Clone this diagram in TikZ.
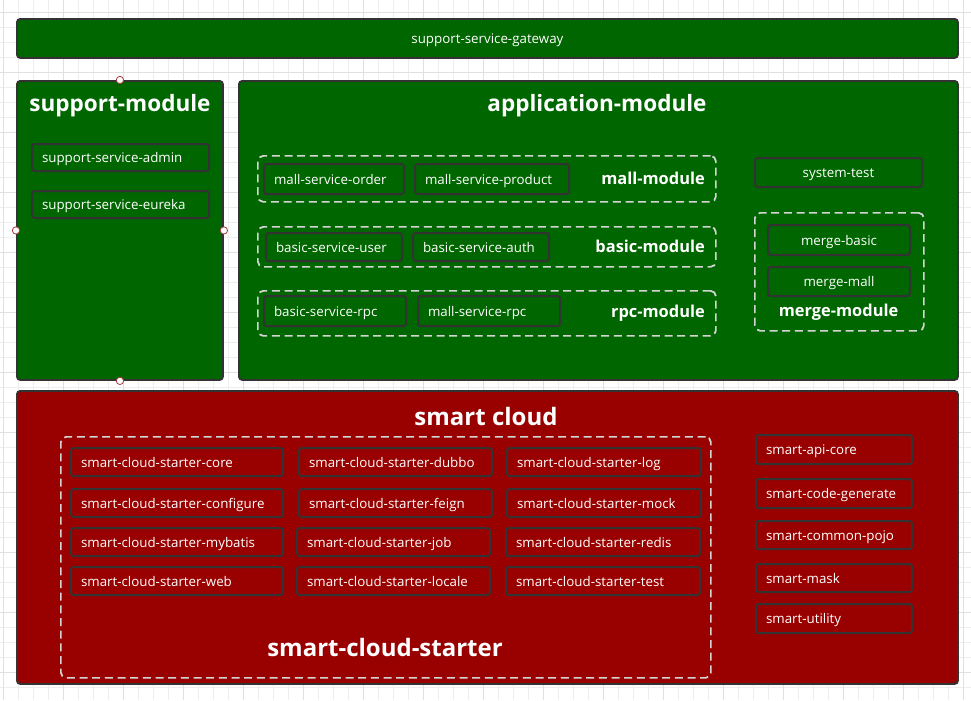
\documentclass[tikz,border=0pt]{standalone}
\usepackage{fontspec}
\setmainfont{Open Sans}
\usepackage{tikz}
\usetikzlibrary{positioning}

\definecolor{appgreen}{HTML}{006600}
\definecolor{cloudred}{HTML}{990000}
\definecolor{edge}{HTML}{333333}
\definecolor{dashgray}{HTML}{D4D4D4}
\definecolor{gridminor}{HTML}{EEEEEE}
\definecolor{gridmajor}{HTML}{E0E0E0}
\definecolor{handlered}{HTML}{A83A3A}

\tikzset{
  module/.style 2 args={
    rectangle,
    draw=edge,
    line width=1.4pt,
    rounded corners=2.5pt,
    anchor=north west,
    inner sep=0pt,
    minimum width=#1*0.75pt,
    minimum height=#2*0.75pt,
    text=white,
    font=\fontsize{10}{12}\selectfont,
    text height=7.5pt,
    text depth=0pt
  },
  group/.style 2 args={
    rectangle,
    draw=dashgray,
    line width=1.3pt,
    dash pattern=on 6pt off 3.5pt,
    rounded corners=4pt,
    anchor=north west,
    inner sep=0pt,
    minimum width=#1*0.75pt,
    minimum height=#2*0.75pt
  },
  item/.style 2 args={
    rectangle,
    draw=edge,
    line width=1.5pt,
    rounded corners=2pt,
    anchor=north west,
    inner xsep=7.5pt,
    inner ysep=0pt,
    text width=#1*0.75pt-15pt,
    minimum height=#2*0.75pt,
    align=left,
    text=white,
    font=\fontsize{10}{12}\selectfont,
    text height=7.5pt,
    text depth=0pt
  },
  centreitem/.style 2 args={item={#1}{#2}, align=center},
  title/.style={text=white, font=\bfseries\fontsize{16.9}{20}\selectfont, inner sep=0pt, anchor=base},
  bigtitle/.style={title, font=\bfseries\fontsize{18}{22}\selectfont},
  grouptitle/.style={text=white, font=\bfseries\fontsize{12.3}{15}\selectfont, inner sep=0pt, anchor=base east},
  handle/.style={circle, draw=handlered, fill=white, line width=0.6pt, inner sep=0pt, minimum size=5.5pt},
}

\begin{document}
\begin{tikzpicture}[x=0.75pt, y=-0.75pt]
        \useasboundingbox (0,0) rectangle (971,700);
        % grid
        \fill[white] (0,0) rectangle (971,700);
        \foreach \gx in {3.3,18.3,...,971} \draw[gridminor, line width=0.6pt] (\gx,0) -- (\gx,700);
        \foreach \gy in {12.7,27.7,...,700} \draw[gridminor, line width=0.6pt] (0,\gy) -- (971,\gy);
        \foreach \gx in {3.3,63.3,...,971} \draw[gridmajor, line width=0.6pt] (\gx,0) -- (\gx,700);
        \foreach \gy in {12.7,72.7,...,700} \draw[gridmajor, line width=0.6pt] (0,\gy) -- (971,\gy);

        % modules
        \node [module={941}{39}, fill=appgreen] (gateway) at (16,18) {support-service-gateway};
        \node [module={206}{299}, fill=appgreen] (support) at (16,80) {};
        \node [module={719}{299}, fill=appgreen] (application) at (238,80) {};
        \node [module={941}{293}, fill=cloudred] (cloud) at (16,390) {};

        % titles
        \node [title] (supporttitle) at (120,111.7) {support-module};
        \node [title] (apptitle) at (597,111.7) {application-module};
        \node [bigtitle] (cloudtitle) at (486,425) {smart cloud};

        % support-module
        \node [item={177}{27}] (admin) at (31,143) {support-service-admin};
        \node [item={177}{27}] (eureka) at (31,190) {support-service-eureka};

        % application-module
        \node [group={458}{46}] (mallgroup) at (257,155) {};
        \node [item={140}{30}] (order) at (263,163) {mall-service-order};
        \node [item={154}{30}] (product) at (414,163) {mall-service-product};
        \node [grouptitle] (malltitle) at (705,184) {mall-module};

        \node [group={458}{40}] (basicgroup) at (257,226) {};
        \node [item={136}{28}] (user) at (265,232) {basic-service-user};
        \node [item={136}{28}] (auth) at (412,232) {basic-service-auth};
        \node [grouptitle] (basictitle) at (705,252.7) {basic-module};

        \node [group={458}{45}] (rpcgroup) at (257,290) {};
        \node [item={142}{30}] (basicrpc) at (263,295) {basic-service-rpc};
        \node [item={142}{30}] (mallrpc) at (417,295) {mall-service-rpc};
        \node [grouptitle] (rpctitle) at (705,317.7) {rpc-module};

        \node [centreitem={167}{29}] (systemtest) at (754,157) {system-test};
        \node [group={169}{118}] (mergegroup) at (754,212) {};
        \node [centreitem={142}{30}] (mergebasic) at (767,224) {merge-basic};
        \node [centreitem={142}{29}] (mergemall) at (767,266) {merge-mall};
        \node [grouptitle, anchor=base] (mergetitle) at (838.5,316.7) {merge-module};

        % smart cloud
        \node [group={650}{241}] (startergroup) at (60,436) {};
        \node [item={212}{28}] (core) at (70,447) {smart-cloud-starter-core};
        \node [item={212}{28}] (configure) at (70,488) {smart-cloud-starter-configure};
        \node [item={212}{28}] (mybatis) at (70,527) {smart-cloud-starter-mybatis};
        \node [item={212}{28}] (web) at (70,566) {smart-cloud-starter-web};
        \node [item={193}{28}] (dubbo) at (298,447) {smart-cloud-starter-dubbo};
        \node [item={193}{28}] (feign) at (298,488) {smart-cloud-starter-feign};
        \node [item={193}{28}] (job) at (296,527) {smart-cloud-starter-job};
        \node [item={193}{28}] (locale) at (296,566) {smart-cloud-starter-locale};
        \node [item={194}{28}] (log) at (506,447) {smart-cloud-starter-log};
        \node [item={194}{28}] (mock) at (506,488) {smart-cloud-starter-mock};
        \node [item={194}{28}] (redis) at (505,527) {smart-cloud-starter-redis};
        \node [item={194}{28}] (test) at (505,566) {smart-cloud-starter-test};
        \node [bigtitle] (startertitle) at (385,656) {smart-cloud-starter};

        \node [item={156}{29}] (apicore) at (755,434) {smart-api-core};
        \node [item={156}{29}] (codegen) at (755,478) {smart-code-generate};
        \node [item={156}{28}] (pojo) at (755,520) {smart-common-pojo};
        \node [item={156}{28}] (mask) at (755,563) {smart-mask};
        \node [item={156}{29}] (utility) at (755,603) {smart-utility};

        % handles
        \node [handle] (hnorth) at (support.north) {};
        \node [handle] (hwest) at (support.west) {};
        \node [handle] (heast) at (support.east) {};
        \node [handle] (hsouth) at (support.south) {};
\end{tikzpicture}
\end{document}
